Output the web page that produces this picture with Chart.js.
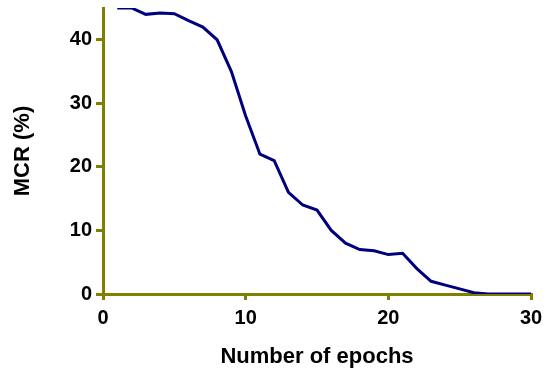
<!DOCTYPE html>
<html><head><meta charset="utf-8">
<script src="https://cdn.jsdelivr.net/npm/chart.js@4"></script>
<style>html,body{margin:0;padding:0;background:#fff}#w{width:550px;height:374px}</style>
</head><body><div id="w"><canvas id="c"></canvas></div>
<script>
const epochs = [1,2,3,4,5,6,7,8,9,10,11,12,13,14,15,16,17,18,19,20,21,22,23,24,25,26,27,28,29,30];
const mcr = [45,45,44,44.2,44.1,43,42,40,35,28,22,21,16,14,13.2,10,8,7,6.8,6.2,6.4,4,2,1.4,0.8,0.2,0,0,0,0];
const xTicks = [0,10,20,30];
const yTicks = [0,10,20,30,40];
const axisColor = '#808000';
const font = {family:'"Liberation Sans", Arial, sans-serif', weight:'bold', size:20};
const tfont = {family:'"Liberation Sans", Arial, sans-serif', weight:'bold', size:22};
new Chart(document.getElementById('c'), {
  type:'line',
  data:{datasets:[{data:epochs.map((e,i)=>({x:e,y:mcr[i]})), borderColor:'#00007f', borderWidth:3, pointRadius:0, tension:0, fill:false}]},
  options:{
    responsive:true, maintainAspectRatio:false, animation:false,
    layout:{padding:{top:8,right:19,left:0,bottom:4}},
    plugins:{legend:{display:false},tooltip:{enabled:false}},
    scales:{
      x:{type:'linear',min:0,max:30,
        afterBuildTicks:s=>{s.ticks=xTicks.map(v=>({value:v}));},
        afterFit:s=>{s.height=76;},
        ticks:{font, color:'#000', padding:6, maxRotation:0},
        grid:{drawOnChartArea:false, drawTicks:true, tickLength:6, color:axisColor, lineWidth:3},
        border:{color:axisColor, width:3},
        title:{display:true, text:'Number of epochs', font:tfont, color:'#000', padding:{top:-2,bottom:0}}
      },
      y:{type:'linear',min:0,max:45,
        afterBuildTicks:s=>{s.ticks=yTicks.map(v=>({value:v}));},
        afterFit:s=>{s.width=103; s.paddingTop=0; s.paddingBottom=0;},
        ticks:{font, color:'#000', padding:4},
        grid:{drawOnChartArea:false, drawTicks:true, tickLength:7, color:axisColor, lineWidth:3},
        border:{color:axisColor, width:3},
        title:{display:true, text:'MCR (%)', font:tfont, color:'#000', padding:{top:10,bottom:4}}
      }
    }
  }
});
</script></body></html>
